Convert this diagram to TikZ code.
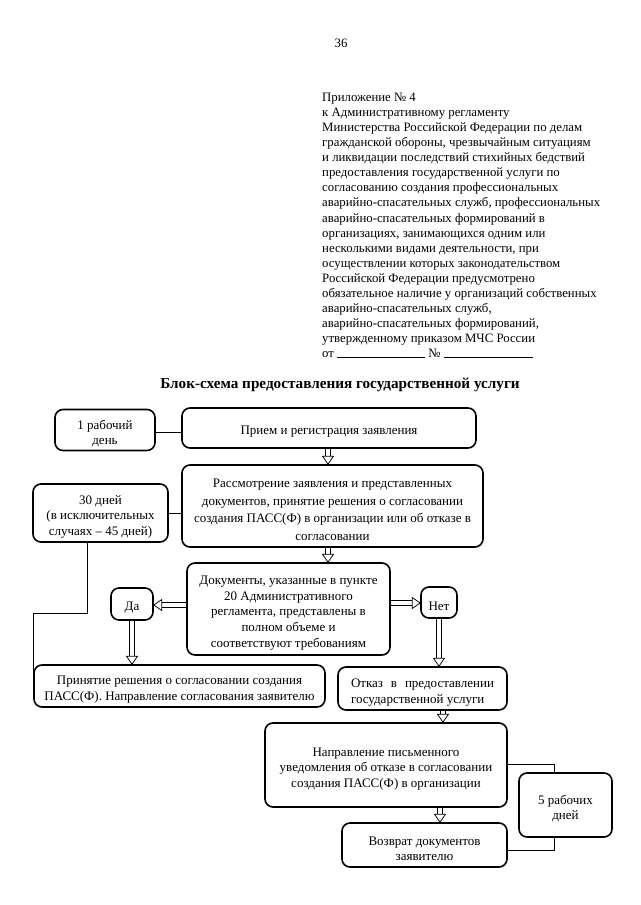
\documentclass[tikz,border=0pt]{standalone}
\usepackage{fontspec}
\setmainfont{Liberation Serif}
\usetikzlibrary{decorations.markings}
\pgfdeclarelayer{paper}
\pgfdeclarelayer{shafts}
\pgfsetlayers{paper,shafts,main}
\newcommand\boxfont{\fontsize{13}{16}\selectfont}
\newcommand\hdrfont{\fontsize{12.8}{15.05}\selectfont}
\newcommand\fs{\rule{0pt}{16.5pt}}
\newcommand\hollowarrow[2]{%
  \begin{pgfonlayer}{shafts}
    \draw[shaftouter] #1 -- #2;
    \draw[shaftinner] #1 -- #2;
  \end{pgfonlayer}
  \path[headmark] #1 -- #2;}
\begin{document}
\begin{tikzpicture}[x=1pt,y=-1pt,
  box/.style={draw, line width=1.6pt, rounded corners=8pt, inner sep=0pt, align=center, font=\boxfont},
  conn/.style={line width=0.8pt},
  shaftouter/.style={line width=5.2pt, shorten >=7pt},
  shaftinner/.style={line width=3.6pt, white, shorten >=6pt, shorten <=-2pt},
  headmark/.style={decorate, decoration={markings, mark=at position 1 with {\draw[line width=0.75pt, fill=white, line join=miter] (0,0) -- (-8pt,5.5pt) -- (-8pt,-5.5pt) -- cycle;}}}
]
\begin{pgfonlayer}{paper}
\fill[white] (0,0) rectangle (640,905);
\end{pgfonlayer}
\useasboundingbox (0,0) rectangle (640,905);

\node[font=\hdrfont] (pagenum) at (341,43) {36};

\node[font=\hdrfont, align=left, anchor=north west, inner sep=0pt] (hdr) at (322,93) {Приложение № 4\\
к Административному регламенту\\
Министерства Российской Федерации по делам\\
гражданской обороны, чрезвычайным ситуациям\\
и ликвидации последствий стихийных бедствий\\
предоставления государственной услуги по\\
согласованию создания профессиональных\\
аварийно-спасательных служб, профессиональных\\
аварийно-спасательных формирований в\\
организациях, занимающихся одним или\\
несколькими видами деятельности, при\\
осуществлении которых законодательством\\
Российской Федерации предусмотрено\\
обязательное наличие у организаций собственных\\
аварийно-спасательных служб,\\
аварийно-спасательных формирований,\\
утвержденному приказом МЧС России\\
от \rule{88pt}{0.5pt} № \rule{89pt}{0.5pt}};

\node[font=\bfseries\fontsize{15.2}{18}\selectfont] (title) at (340,385) {Блок-схема предоставления государственной услуги};

\node[box, minimum width=100pt, minimum height=41pt, font=\fontsize{13}{15}\selectfont] (day1) at (105,430) {\fs 1 рабочий\\день};
\node[box, minimum width=294pt, minimum height=40pt] (priem) at (329,428) {\fs Прием и регистрация заявления};
\node[box, minimum width=301pt, minimum height=82pt, font=\fontsize{13}{17.5}\selectfont] (rassm) at (332.5,506) {\fs Рассмотрение заявления и представленных\\документов, принятие решения о согласовании\\создания ПАСС(Ф) в организации или об отказе в\\согласовании};
\node[box, minimum width=135pt, minimum height=58pt, font=\fontsize{13}{15.5}\selectfont] (d30) at (100.5,513) {\fs 30 дней\\(в исключительных\\случаях – 45 дней)};
\node[box, minimum width=203pt, minimum height=92pt, font=\fontsize{13}{15.8}\selectfont] (docs) at (288.5,609) {\fs Документы, указанные в пункте\\20 Административного\\регламента, представлены в\\полном объеме и\\соответствуют требованиям};
\node[box, minimum width=42pt, minimum height=32pt] (da) at (132,604) {\fs Да};
\node[box, minimum width=36pt, minimum height=31pt] (net) at (439,602.5) {\fs Нет};
\node[box, minimum width=291pt, minimum height=42pt] (prin) at (179.5,686) {\fs Принятие решения о согласовании создания\\ПАСС(Ф). Направление согласования заявителю};
\node[box, minimum width=169pt, minimum height=43pt, align=left] (otkaz) at (422.5,688.5) {\fs\makebox[143pt][s]{Отказ\hfill в\hfill предоставлении}\\государственной услуги\hspace{31pt}};
\node[box, minimum width=242pt, minimum height=84pt, font=\fontsize{13}{15.5}\selectfont] (napr) at (386,765) {\fs Направление письменного\\уведомления об отказе в согласовании\\создания ПАСС(Ф) в организации};
\node[box, minimum width=93pt, minimum height=64pt, font=\fontsize{13}{15}\selectfont] (d5) at (565.5,805) {\fs 5 рабочих\\дней};
\node[box, minimum width=165pt, minimum height=44pt, font=\fontsize{13}{15.5}\selectfont] (vozvr) at (424.5,845) {\fs Возврат документов\\заявителю};

% plain connectors
\coordinate (c0) at (0,432);
\draw[conn] (day1.east |- c0) -- (priem.west |- c0);
\draw[conn] (d30.east) -- (d30.east -| rassm.west);
\coordinate (c1) at (87,613);
\coordinate (c2) at (33,613);
\coordinate (c3) at (33,680);
\draw[conn] (d30.south -| c1) -- (c1) -- (c2) -- (c3);
\coordinate (c4) at (554,764);
\coordinate (c5) at (554,850);
\draw[conn] (napr.east |- c4) -- (c4) -- (d5.north -| c4);
\draw[conn] (d5.south -| c5) -- (c5) -- (vozvr.east |- c5);

% hollow arrows
\coordinate (xa) at (328,0);
\coordinate (ya) at (0,605);
\coordinate (yb) at (0,603);
\coordinate (xb) at (443,0);
\coordinate (xc) at (440,0);
\hollowarrow{(priem.south -| xa)}{(rassm.north -| xa)}
\hollowarrow{(rassm.south -| xa)}{(docs.north -| xa)}
\hollowarrow{(docs.west |- ya)}{(da.east |- ya)}
\hollowarrow{(docs.east |- yb)}{(net.west |- yb)}
\hollowarrow{(da.south)}{(da.south |- prin.north)}
\hollowarrow{(net.south)}{(net.south |- otkaz.north)}
\hollowarrow{(otkaz.south -| xb)}{(napr.north -| xb)}
\hollowarrow{(napr.south -| xc)}{(vozvr.north -| xc)}
\end{tikzpicture}
\end{document}
